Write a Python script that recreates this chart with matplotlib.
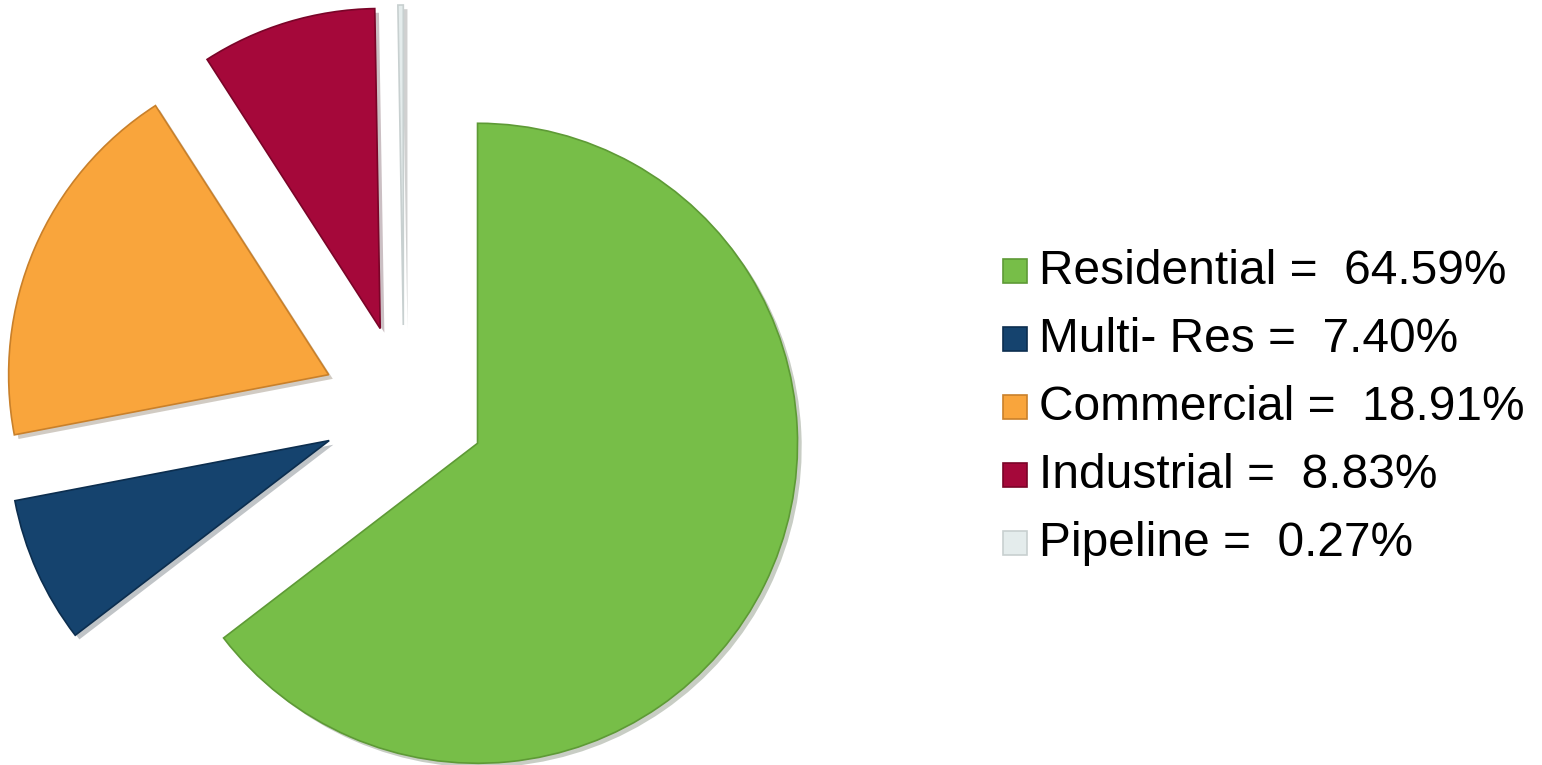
import matplotlib.pyplot as plt
import matplotlib.patheffects as pe
from matplotlib.patches import Rectangle

categories = ["Residential", "Multi- Res", "Commercial", "Industrial", "Pipeline"]
shares = [64.59, 7.40, 18.91, 8.83, 0.27]
colors = ["#77BE48", "#15436E", "#F9A53C", "#A5083A", "#E4ECEC"]
edges = ["#5E9A36", "#0C2E4F", "#C9802A", "#7A0428", "#C8D0D0"]

W, H = 1542, 765
fig = plt.figure(figsize=(W / 100, H / 100), dpi=100)
ax = fig.add_axes([0, 0, 1, 1])

# pie in pixel units: centre, radius and explode distance
wedges, _ = ax.pie(shares, colors=colors, startangle=90, counterclock=False,
                   center=(404, H - 407), radius=320, explode=[82] * len(shares),
                   wedgeprops=dict(linewidth=1.2), frame=True)
ax.set_xlim(0, W)
ax.set_ylim(0, H)
ax.set_aspect("equal")
ax.axis("off")
for w, ec in zip(wedges, edges):
    w.set_edgecolor(ec)
    w.set_path_effects([pe.SimplePatchShadow(offset=(3, -3), alpha=0.25), pe.Normal()])

# legend drawn by hand
for i, (cat, val) in enumerate(zip(categories, shares)):
    yb = H - (283 + 68 * i)
    ax.add_patch(Rectangle((1003, yb), 24, 24, facecolor=colors[i],
                           edgecolor=edges[i], linewidth=1.2))
    ax.text(1039, yb - 1, f"{cat} =  {val:.2f}%", fontsize=34.5,
            family="Liberation Sans", va="baseline", ha="left", color="black")

fig.savefig("out.png", dpi=100)
